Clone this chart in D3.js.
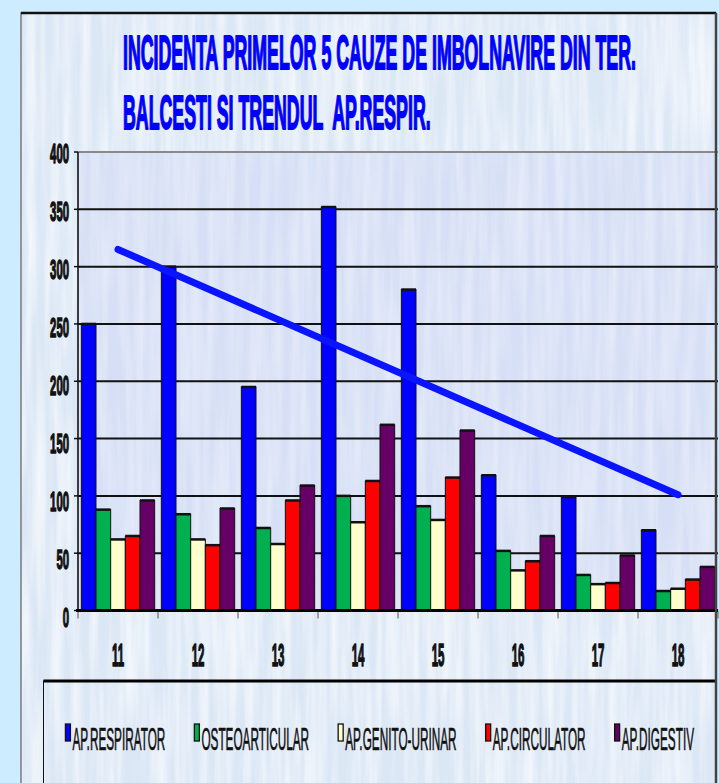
<!DOCTYPE html>
<html>
<head>
<meta charset="utf-8">
<script src="https://cdn.jsdelivr.net/npm/d3@7/dist/d3.min.js"></script>
<style>
  html, body { margin: 0; padding: 0; background: #cdecff; }
  svg { display: block; }
  text { font-family: "Liberation Sans", Arial, Helvetica, sans-serif; }
</style>
</head>
<body>
<svg id="chart" width="719" height="783"></svg>
<script>
// Cazuri pe ani (11..18) pentru primele 5 cauze de imbolnavire
const categories = ["11", "12", "13", "14", "15", "16", "17", "18"];
const seriesNames = ["AP.RESPIRATOR", "OSTEOARTICULAR", "AP.GENITO-URINAR", "AP.CIRCULATOR", "AP.DIGESTIV"];
const respirator     = [250, 300, 195, 352, 280, 118, 99, 70];
const osteoarticular = [88, 84, 72, 100, 91, 52, 31, 17];
const genitoUrinar   = [62, 62, 58, 77, 79, 35, 23, 19];
const circulator     = [65, 57, 96, 113, 116, 43, 24, 27];
const digestiv       = [96, 89, 109, 162, 157, 65, 48, 38];
const yTicks = [0, 50, 100, 150, 200, 250, 300, 350, 400];
const titleLines = ["INCIDENTA PRIMELOR 5 CAUZE DE IMBOLNAVIRE DIN TER.", "BALCESTI SI TRENDUL  AP.RESPIR."];

const seriesValues = [respirator, osteoarticular, genitoUrinar, circulator, digestiv];
const colors = ["#0000ff", "#00b050", "#ffffcc", "#ff0000", "#660066"];

const svg = d3.select("#chart");
const W = 719, H = 783;

// ---- textures ----
const defs = svg.append("defs");
function streakFilter(id, seed, alpha) {
  const f = defs.append("filter").attr("id", id)
    .attr("x", 0).attr("y", 0).attr("width", 1).attr("height", 1);
  f.append("feTurbulence").attr("type", "fractalNoise")
    .attr("baseFrequency", "0.11 0.007").attr("numOctaves", 3).attr("seed", seed);
  f.append("feColorMatrix").attr("type", "matrix")
    .attr("values", `0 0 0 0 1  0 0 0 0 1  0 0 0 0 1  ${alpha} 0 0 0 ${-alpha * 0.3}`);
}
streakFilter("texChart", 4, 1.2);
streakFilter("texPlot", 9, 0.7);

// ---- chart area ----
const area = { x: 21, y: 13, w: 695, h: H - 13 + 5 };
svg.append("rect").attr("x", area.x).attr("y", area.y).attr("width", area.w).attr("height", area.h)
  .attr("fill", "#dbe7f5");
svg.append("rect").attr("x", area.x).attr("y", area.y).attr("width", area.w).attr("height", area.h)
  .attr("filter", "url(#texChart)").attr("fill", "#fff");

// ---- scales ----
const plot = { left: 78, right: 718, top: 152, bottom: 610.5 };
const x = d3.scaleBand().domain(categories).range([plot.left, plot.right]).paddingInner(0).paddingOuter(0);
const xs = d3.scaleBand().domain(seriesNames).range([0, x.bandwidth()]).paddingInner(0).paddingOuter(0.227);
const y = d3.scaleLinear().domain([0, 400]).range([plot.bottom, plot.top]);

// plot area fill
svg.append("rect").attr("x", plot.left).attr("y", plot.top)
  .attr("width", plot.right - plot.left).attr("height", plot.bottom - plot.top)
  .attr("fill", "#d6dff5");
svg.append("rect").attr("x", plot.left).attr("y", plot.top)
  .attr("width", plot.right - plot.left).attr("height", plot.bottom - plot.top)
  .attr("fill", "#fff").attr("filter", "url(#texPlot)");

// gridlines
svg.append("g").selectAll("line").data(yTicks.filter(v => v > 0)).join("line")
  .attr("x1", plot.left).attr("x2", plot.right)
  .attr("y1", d => y(d)).attr("y2", d => y(d))
  .attr("stroke", d => d === 400 ? "#8a8a8a" : "#111")
  .attr("stroke-width", 2);

// bars
const groups = svg.append("g").selectAll("g").data(categories).join("g")
  .attr("transform", d => `translate(${x(d)},0)`);
groups.each(function (cat, ci) {
  const g = d3.select(this);
  const rows = seriesNames.map((s, si) => ({ s, si, v: seriesValues[si][ci] }));
  g.selectAll("rect").data(rows).join("rect")
    .attr("x", d => xs(d.s)).attr("width", xs.bandwidth())
    .attr("y", d => y(d.v)).attr("height", d => y(0) - y(d.v))
    .attr("fill", d => colors[d.si])
    .attr("stroke", "#111").attr("stroke-width", 1);
  g.selectAll("line.top").data(rows).join("line").attr("class", "top")
    .attr("x1", d => xs(d.s)).attr("x2", d => xs(d.s) + xs.bandwidth())
    .attr("y1", d => y(d.v)).attr("y2", d => y(d.v))
    .attr("stroke", "#111").attr("stroke-width", 2.5);
});

// axes
svg.append("line").attr("x1", plot.left).attr("x2", plot.left)
  .attr("y1", plot.top).attr("y2", plot.bottom).attr("stroke", "#111").attr("stroke-width", 1.6);
svg.append("g").selectAll("line").data(yTicks).join("line")
  .attr("x1", plot.left - 4).attr("x2", plot.left)
  .attr("y1", d => y(d)).attr("y2", d => y(d)).attr("stroke", "#111").attr("stroke-width", 1.5);
const bounds = categories.map(c => x(c)).concat([plot.right]);
svg.append("g").selectAll("line").data(bounds).join("line")
  .attr("x1", d => d).attr("x2", d => d)
  .attr("y1", plot.bottom).attr("y2", plot.bottom + 8)
  .attr("stroke", "#555").attr("stroke-width", 1);
svg.append("line").attr("x1", plot.left - 2).attr("x2", plot.right)
  .attr("y1", plot.bottom).attr("y2", plot.bottom).attr("stroke", "#000").attr("stroke-width", 3);

// linear trend of AP.RESPIRATOR
const n = respirator.length;
const xi = d3.range(1, n + 1);
const mx = d3.mean(xi), my = d3.mean(respirator);
const slope = d3.sum(xi, (v, i) => (v - mx) * (respirator[i] - my)) / d3.sum(xi, v => (v - mx) ** 2);
const intercept = my - slope * mx;
const trend = categories.map((c, i) => ({ c, v: intercept + slope * (i + 1) }));
const trendEnds = [trend[0], trend[n - 1]];
svg.append("path").datum(trendEnds)
  .attr("d", d3.line().x(d => x(d.c) + x.bandwidth() / 2).y(d => y(d.v)))
  .attr("fill", "none").attr("stroke", "#0a14ff").attr("stroke-width", 7).attr("stroke-linecap", "round");

// condensed text helper: scale horizontally around the anchor point,
// with an outline that keeps the stems heavy after the squeeze
function squeeze(sel, sx, weight) {
  sel.each(function () {
    const t = d3.select(this);
    const tx = +t.attr("x"), ty = +t.attr("y");
    t.attr("x", 0).attr("y", 0).attr("transform", `translate(${tx},${ty}) scale(${sx},1)`);
    if (weight) {
      t.attr("stroke", t.attr("fill")).attr("stroke-width", weight)
        .attr("vector-effect", "non-scaling-stroke").attr("stroke-linejoin", "round");
    }
  });
}

// y tick labels
const yLab = svg.append("g").selectAll("text").data(yTicks).join("text")
  .attr("x", 69).attr("y", d => y(d) + 11 + (1 - d / 400) * 5.5)
  .attr("text-anchor", "end").attr("font-weight", "bold").attr("font-size", 27)
  .attr("fill", "#111").text(d => d);
squeeze(yLab, 0.42, 1.1);

// x tick labels
const xLab = svg.append("g").selectAll("text").data(categories).join("text")
  .attr("x", d => x(d) + x.bandwidth() / 2).attr("y", 666)
  .attr("text-anchor", "middle").attr("font-weight", "bold").attr("font-size", 31)
  .attr("fill", "#111").text(d => d);
squeeze(xLab, 0.37, 1.1);

// title
const title = svg.append("g").selectAll("text").data(titleLines).join("text")
  .attr("x", 123).attr("y", (d, i) => 69 + i * 60)
  .attr("font-weight", "bold").attr("font-size", 48).attr("fill", "#0000ff")
  .style("white-space", "pre").text(d => d);
const titleScale = 513 / title.nodes()[0].getComputedTextLength();
squeeze(title, titleScale, 1.4);

// legend
const leg = { x: 43.5, y: 681 };
svg.append("rect").attr("x", leg.x).attr("y", leg.y).attr("width", area.x + area.w - leg.x).attr("height", H)
  .attr("fill", "none").attr("stroke", "#111").attr("stroke-width", 1);
svg.append("line").attr("x1", leg.x).attr("x2", area.x + area.w).attr("y1", leg.y).attr("y2", leg.y)
  .attr("stroke", "#000").attr("stroke-width", 3);

const legSx = 0.38, swW = 5, swGap = 2, itemGap = 29;
const legItems = svg.append("g").selectAll("g").data(seriesNames).join("g");
legItems.append("text").attr("font-size", 31).attr("fill", "#111").text(d => d);
const widths = legItems.select("text").nodes().map(nd => nd.getComputedTextLength() * legSx);
const totalW = d3.sum(widths) + seriesNames.length * (swW + swGap) + (seriesNames.length - 1) * itemGap;
let cx = (leg.x + area.x + area.w) / 2 - totalW / 2;
const starts = widths.map(w => { const s = cx; cx += swW + swGap + w + itemGap; return s; });
legItems.append("rect")
  .attr("x", (d, i) => starts[i]).attr("y", 724).attr("width", swW).attr("height", 17)
  .attr("fill", (d, i) => colors[i]).attr("stroke", "#111").attr("stroke-width", 1.3);
legItems.select("text")
  .attr("x", (d, i) => starts[i] + swW + swGap).attr("y", 750);
squeeze(legItems.select("text"), legSx, 0.5);

// chart area frame
svg.append("rect").attr("x", area.x).attr("y", area.y).attr("width", area.w).attr("height", area.h)
  .attr("fill", "none").attr("stroke", "#7a7a7a").attr("stroke-width", 1.5);
svg.append("line").attr("x1", area.x).attr("x2", area.x + area.w).attr("y1", area.y).attr("y2", area.y)
  .attr("stroke", "#111").attr("stroke-width", 2.5);
svg.append("line").attr("x1", area.x + area.w).attr("x2", area.x + area.w).attr("y1", area.y).attr("y2", H)
  .attr("stroke", "#444").attr("stroke-width", 2.5);
</script>
</body>
</html>
